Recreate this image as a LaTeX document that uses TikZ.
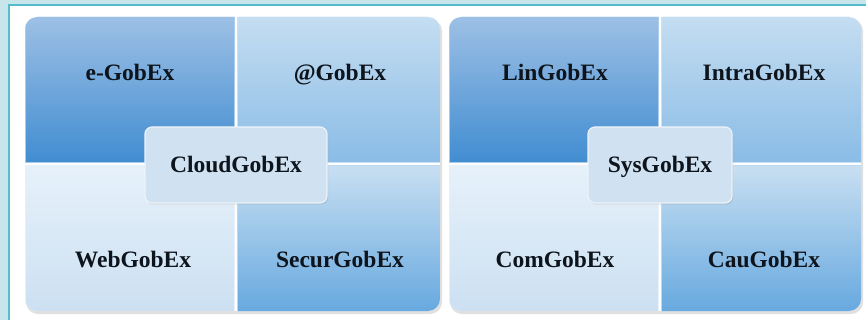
\documentclass[tikz,border=0pt]{standalone}
\usepackage{fontspec}
\setmainfont{Liberation Serif}
\usetikzlibrary{shadows}
\definecolor{bgcyan}{HTML}{C6E6EC}
\definecolor{teal1}{HTML}{56BCCB}
\definecolor{qAtop}{HTML}{9DC0E5}
\definecolor{qAbot}{HTML}{418DD1}
\definecolor{qBtop}{HTML}{C4DDF1}
\definecolor{qBbot}{HTML}{8ABCE6}
\definecolor{qCtop}{HTML}{E6F1FA}
\definecolor{qCbot}{HTML}{CCE0F2}
\definecolor{qDtop}{HTML}{C8DFF2}
\definecolor{qDbot}{HTML}{67A9DF}
\definecolor{ctrfill}{HTML}{D0E2F1}
\definecolor{txt}{HTML}{0E141C}
\tikzset{
  quad/.style={rectangle, inner sep=0pt, draw=white!55!#1, line width=1pt},
  qa/.style={quad=qAbot, top color=qAtop, bottom color=qAbot},
  qb/.style={quad=qBbot, top color=qBtop, bottom color=qBbot},
  qc/.style={quad=qCbot, top color=qCtop, bottom color=qCbot},
  qd/.style={quad=qDbot, top color=qDtop, bottom color=qDbot},
  lbl/.style={font=\fontsize{23.5}{27}\selectfont\bfseries, text=txt, inner sep=0pt, anchor=base},
  ctr/.style={rectangle, rounded corners=7pt, fill=ctrfill, draw=white!60!ctrfill, line width=1.2pt,
    drop shadow={opacity=0.25, shadow xshift=1pt, shadow yshift=-1.5pt},
    inner sep=0pt},
}
\begin{document}
\begin{tikzpicture}[x=1pt,y=-1pt]
\useasboundingbox (0,0) rectangle (866,320);
\fill[bgcyan] (0,0) rectangle (866,320);
\fill[white] (9,5) rectangle (870,325);
\draw[teal1, line width=2pt] (9,325) -- (9,5) -- (870,5);
% group shadows
\fill[black!12] (26,19) [rounded corners=12pt] rectangle (442,314);
\fill[black!12] (450,19) [rounded corners=12pt] rectangle (863,314);
\begin{scope}
\clip[rounded corners=12pt] (25,17) rectangle (440,311);
\fill[white] (25,17) rectangle (440,311);
\node[qa, minimum width=209.5pt, minimum height=145.5pt] (eq) at (129.75,89.75) {};
\node[qb, minimum width=202.5pt, minimum height=145.5pt] (aq) at (338.75,89.75) {};
\node[qc, minimum width=209.5pt, minimum height=145.5pt] (wq) at (129.75,238.25) {};
\node[qd, minimum width=202.5pt, minimum height=145.5pt] (sq) at (338.75,238.25) {};
\end{scope}
\begin{scope}
\clip[rounded corners=12pt] (449,17) rectangle (861,311);
\fill[white] (449,17) rectangle (861,311);
\node[qa, minimum width=209.5pt, minimum height=145.5pt] (lq) at (553.75,89.75) {};
\node[qb, minimum width=199.5pt, minimum height=145.5pt] (iq) at (761.25,89.75) {};
\node[qc, minimum width=209.5pt, minimum height=145.5pt] (cq) at (553.75,238.25) {};
\node[qd, minimum width=199.5pt, minimum height=145.5pt] (uq) at (761.25,238.25) {};
\end{scope}
% center boxes
\node[ctr, minimum width=182pt, minimum height=76pt] (cloud) at (236,165) {};
\node[ctr, minimum width=144pt, minimum height=76pt] (sys) at (660,165) {};
% labels
\node[lbl] (t1) at (130,81) {e-GobEx};
\node[lbl] (t2) at (340,81) {@GobEx};
\node[lbl] (t3) at (133,267) {WebGobEx};
\node[lbl] (t4) at (340,267) {SecurGobEx};
\node[lbl] (t5) at (236,173) {CloudGobEx};
\node[lbl] (t6) at (555,81) {LinGobEx};
\node[lbl] (t7) at (764,81) {IntraGobEx};
\node[lbl] (t8) at (555,267) {ComGobEx};
\node[lbl] (t9) at (764,267) {CauGobEx};
\node[lbl] (t10) at (660,173) {SysGobEx};
\end{tikzpicture}
\end{document}
